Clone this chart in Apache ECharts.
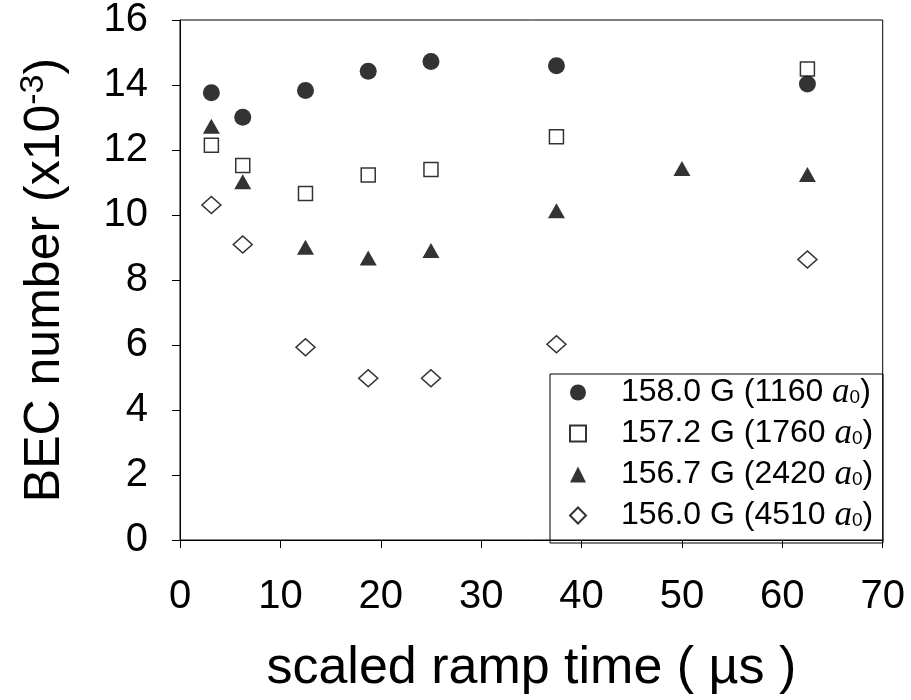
<!DOCTYPE html>
<html>
<head>
<meta charset="utf-8">
<script src="https://cdn.jsdelivr.net/npm/echarts@6/dist/echarts.min.js"></script>
<style>html,body{margin:0;padding:0;background:#fff}#c{width:911px;height:700px}</style>
</head>
<body>
<div id="c"></div>
<script>
// ---- data ----
var seriesNames = ['158.0 G', '157.2 G', '156.7 G', '156.0 G'];
var scatLengths = ['1160', '1760', '2420', '4510'];
var xA = [3.125, 6.25, 12.5, 18.75, 25, 37.5, 62.5];
var xB = [3.125, 6.25, 12.5, 18.75, 25, 37.5, 50, 62.5];
var y158_0 = [13.76, 13.01, 13.83, 14.42, 14.72, 14.59, 14.03];
var y157_2 = [12.15, 11.52, 10.66, 11.23, 11.40, 12.41, 14.49];
var y156_7 = [12.73, 11.02, 9.01, 8.68, 8.91, 10.13, 11.43, 11.25];
var y156_0 = [10.31, 9.09, 5.93, 4.98, 4.98, 6.02, 8.63];
var xTicks = [0, 10, 20, 30, 40, 50, 60, 70];
var yTicks = [0, 2, 4, 6, 8, 10, 12, 14, 16];

function pairs(xs, ys) { return xs.map(function (x, i) { return [x, ys[i]]; }); }

var FONT = "'Liberation Sans', Arial, sans-serif";
var chart = echarts.init(document.getElementById('c'), null, { renderer: 'canvas' });

var labelMap = {};
seriesNames.forEach(function (n, i) { labelMap[n] = scatLengths[i]; });

var option = {
  backgroundColor: '#fff',
  animation: false,
  grid: { left: 180, top: 20, width: 702.7, height: 522.7, show: true, borderColor: '#000', borderWidth: 1, backgroundColor: 'transparent' },
  xAxis: {
    type: 'value', min: xTicks[0], max: xTicks[xTicks.length - 1], interval: 10,
    axisLine: { show: true, onZero: false, lineStyle: { color: '#000', width: 1 } },
    axisTick: { show: true, inside: false, length: 8, lineStyle: { color: '#000' } },
    splitLine: { show: false },
    axisLabel: { fontFamily: FONT, fontSize: 40, color: '#000', margin: 37 },
    name: 'scaled ramp time ( \u00b5s )',
    nameLocation: 'middle', nameGap: 103,
    nameTextStyle: { fontFamily: FONT, fontSize: 52, color: '#000' }
  },
  yAxis: {
    type: 'value', min: yTicks[0], max: yTicks[yTicks.length - 1], interval: 2,
    axisLine: { show: true, onZero: false, lineStyle: { color: '#000', width: 1 } },
    axisTick: { show: true, inside: false, length: 8, lineStyle: { color: '#000' } },
    splitLine: { show: false },
    axisLabel: { fontFamily: FONT, fontSize: 40, color: '#000', margin: 32 },
    name: 'BEC number (x10{sup|-3})',
    nameLocation: 'middle', nameRotate: 90, nameGap: 107,
    nameTextStyle: {
      fontFamily: FONT, fontSize: 50, color: '#000',
      rich: { sup: { fontFamily: FONT, fontSize: 34, color: '#000', verticalAlign: 'top', padding: [0, 0, 22, 0] } }
    }
  },
  legend: {
    orient: 'vertical', left: 569, top: 375, padding: 0,
    itemWidth: 16, itemHeight: 16, itemGap: 6,
    data: seriesNames,
    formatter: function (n) { return '{g| }' + n + ' (' + labelMap[n] + ' {a|a}{s|0})'; },
    textStyle: {
      fontFamily: FONT, fontSize: 32, color: '#000', lineHeight: 30,
      rich: {
        g: { width: 30, fontSize: 32, lineHeight: 30 },
        a: { fontFamily: "'Liberation Serif', 'Times New Roman', serif", fontStyle: 'italic', fontSize: 35, color: '#000', lineHeight: 30 },
        s: { fontFamily: FONT, fontSize: 19, color: '#000', lineHeight: 10, verticalAlign: 'bottom' }
      }
    }
  },
  graphic: [{
    type: 'rect', z: -1, silent: true,
    shape: { x: 550, y: 374, width: 333, height: 169 },
    style: { fill: '#fff', stroke: '#000', lineWidth: 1 }
  }],
  series: [
    { name: seriesNames[0], type: 'scatter', data: pairs(xA, y158_0), symbol: 'circle', symbolSize: 17,
      itemStyle: { color: '#000' } },
    { name: seriesNames[1], type: 'scatter', data: pairs(xA, y157_2), symbol: 'rect', symbolSize: 14,
      itemStyle: { color: '#fff', borderColor: '#000', borderWidth: 1.5 } },
    { name: seriesNames[2], type: 'scatter', data: pairs(xB, y156_7), symbol: 'triangle', symbolSize: [17, 15],
      itemStyle: { color: '#000' } },
    { name: seriesNames[3], type: 'scatter', data: pairs(xA, y156_0), symbol: 'diamond', symbolSize: [19, 17],
      itemStyle: { color: '#fff', borderColor: '#000', borderWidth: 1.5 } }
  ]
};
chart.setOption(option);
</script>
</body>
</html>
